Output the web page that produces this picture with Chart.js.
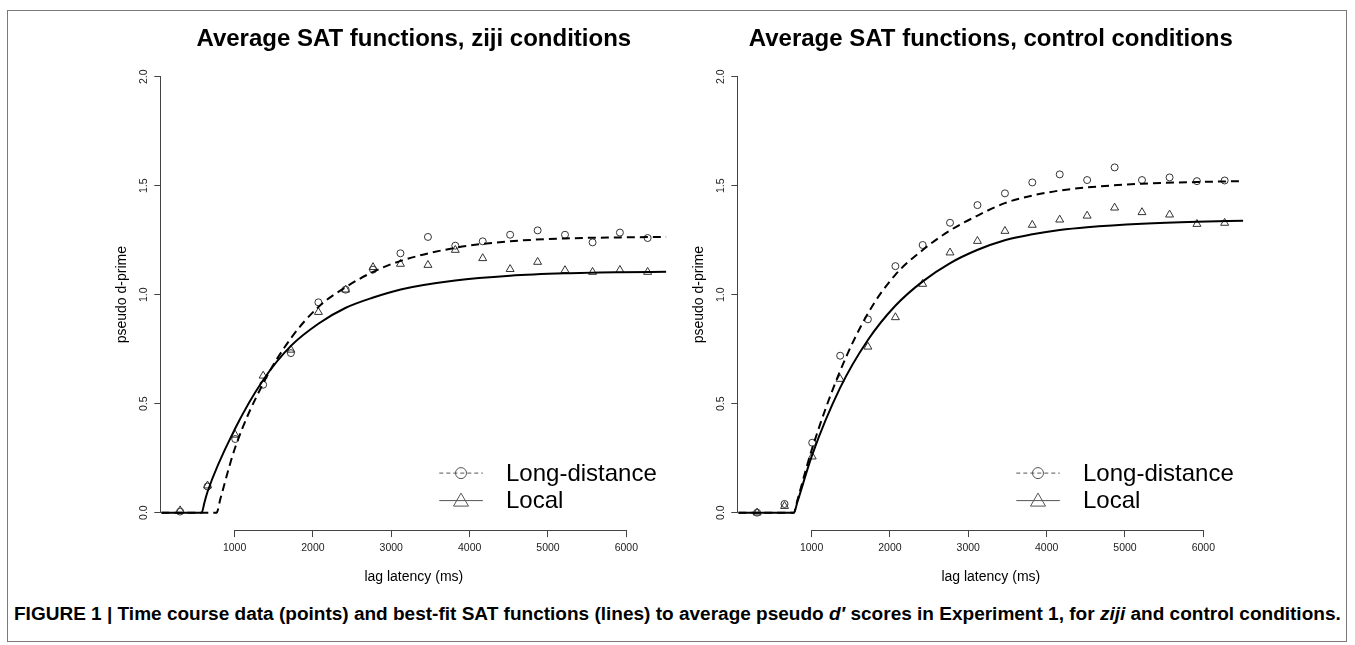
<!DOCTYPE html>
<html>
<head>
<meta charset="utf-8">
<script src="https://cdn.jsdelivr.net/npm/chart.js@4.4.1/dist/chart.umd.min.js"></script>
<style>
  html, body { margin: 0; padding: 0; background: #fff; }
  #page { position: relative; width: 1355px; height: 645px; overflow: hidden; background: #fff; }
  #frame { position: absolute; left: 7px; top: 10px; width: 1340px; height: 632px; border: 1px solid #7a7a7a; box-sizing: border-box; }
  canvas { position: absolute; top: 0; }
  #left { left: 0; }
  #right { left: 577px; }
  #caption { position: absolute; left: 14px; top: 603px; white-space: nowrap; font-family: 'Liberation Sans', Arial, sans-serif; font-weight: bold; font-size: 16px; color: #000; }
</style>
</head>
<body>
<div id="page">
  <div id="frame"></div>
  <canvas id="left" width="690" height="600"></canvas>
  <canvas id="right" width="690" height="600"></canvas>
  <div id="caption">FIGURE 1 | Time course data (points) and best-fit SAT functions (lines) to average pseudo <i>d′</i> scores in Experiment 1, for <i>ziji</i> and control conditions.</div>
</div>
<script>
// Lags (ms) at which the data points were measured
const lags = [305, 655, 1008, 1365, 1719, 2070, 2418, 2767, 3117, 3468, 3817, 4167, 4517, 4868, 5217, 5569, 5918, 6272];

// ziji conditions - observed points
const zijiLong = [0.005, 0.12, 0.338, 0.587, 0.732, 0.965, 1.023, 1.115, 1.19, 1.265, 1.225, 1.245, 1.275, 1.295, 1.275, 1.24, 1.285, 1.26];
const zijiLocal = [0.01, 0.124, 0.357, 0.628, 0.747, 0.92, 1.023, 1.126, 1.141, 1.136, 1.205, 1.167, 1.117, 1.15, 1.112, 1.104, 1.113, 1.104];

// control conditions - observed points
const ctrlLong = [0.0, 0.04, 0.321, 0.72, 0.887, 1.131, 1.228, 1.33, 1.411, 1.465, 1.515, 1.552, 1.526, 1.584, 1.526, 1.538, 1.521, 1.524];
const ctrlLocal = [0.0, 0.03, 0.257, 0.613, 0.761, 0.896, 1.049, 1.193, 1.246, 1.292, 1.32, 1.344, 1.362, 1.399, 1.378, 1.367, 1.324, 1.329];

// fitted SAT curves
const zijiLongFitX = [65, 770, 820, 1009, 1368, 1719, 2074, 2420, 2770, 3120, 3816, 4517, 5217, 5918, 6510];
const zijiLongFitY = [0, 0, 0.065, 0.30, 0.595, 0.80, 0.945, 1.035, 1.105, 1.155, 1.215, 1.245, 1.258, 1.263, 1.265];
const zijiLocalFitX = [65, 580, 615, 654, 1009, 1368, 1719, 2074, 2420, 2770, 3120, 3816, 4517, 5217, 5918, 6510];
const zijiLocalFitY = [0, 0, 0.045, 0.095, 0.387, 0.61, 0.765, 0.868, 0.94, 0.987, 1.024, 1.065, 1.087, 1.098, 1.103, 1.105];

const ctrlLongFitX = [65, 774, 820, 1008, 1361, 1719, 2066, 2415, 2764, 3113, 3466, 3818, 4167, 4516, 5217, 5918, 6510];
const ctrlLongFitY = [0, 0, 0.058, 0.295, 0.647, 0.914, 1.09, 1.204, 1.294, 1.362, 1.42, 1.455, 1.478, 1.492, 1.509, 1.517, 1.521];
const ctrlLocalFitX = [65, 774, 820, 1008, 1361, 1719, 2066, 2415, 2764, 3113, 3466, 3818, 4167, 4516, 5217, 5918, 6510];
const ctrlLocalFitY = [0, 0, 0.05, 0.265, 0.57, 0.792, 0.948, 1.06, 1.144, 1.205, 1.25, 1.277, 1.297, 1.31, 1.326, 1.335, 1.339];

// axes
const xTicks = [1000, 2000, 3000, 4000, 5000, 6000];
const yTicks = [0, 0.5, 1.0, 1.5, 2.0];
const legendLabels = ['Long-distance', 'Local'];

const FONT = "'Liberation Sans', Arial, Helvetica, sans-serif";
Chart.defaults.font.family = FONT;
Chart.defaults.color = '#111';

function pairs(xs, ys) {
    return xs.map((x, i) => ({ x: x, y: ys[i] }));
}

// R-style axis lines (only between first and last tick) and the legend box
const rStyle = {
    id: 'rStyle',
    afterDraw(chart) {
        const ctx = chart.ctx;
        const ca = chart.chartArea;
        const xs = chart.scales.x;
        const ys = chart.scales.y;
        ctx.save();
        ctx.strokeStyle = '#444';
        ctx.lineWidth = 1;
        ctx.beginPath();
        const by = Math.round(ca.bottom) + 0.5;
        ctx.moveTo(xs.getPixelForValue(xTicks[0]), by);
        ctx.lineTo(xs.getPixelForValue(xTicks[xTicks.length - 1]), by);
        const lx = Math.round(ca.left) - 0.5;
        ctx.moveTo(lx, ys.getPixelForValue(yTicks[0]));
        ctx.lineTo(lx, ys.getPixelForValue(yTicks[yTicks.length - 1]));
        ctx.stroke();

        // legend
        const rows = [ca.bottom - 57, ca.bottom - 29.5];
        const x0 = ca.right - 227, x1 = ca.right - 183.5, xm = ca.right - 205.3;
        ctx.strokeStyle = '#555';
        ctx.lineWidth = 1;
        rows.forEach((y, i) => {
            ctx.beginPath();
            ctx.setLineDash(i === 0 ? [4, 3] : []);
            ctx.moveTo(x0, y);
            ctx.lineTo(x1, y);
            ctx.stroke();
            ctx.setLineDash([]);
            ctx.beginPath();
            if (i === 0) {
                ctx.arc(xm, y, 5.5, 0, Math.PI * 2);
            } else {
                ctx.moveTo(xm, y - 7.5);
                ctx.lineTo(xm + 7.5, y + 5.5);
                ctx.lineTo(xm - 7.5, y + 5.5);
                ctx.closePath();
            }
            ctx.stroke();
            ctx.fillStyle = '#000';
            ctx.font = '24px ' + FONT;
            ctx.textAlign = 'left';
            ctx.textBaseline = 'middle';
            ctx.fillText(legendLabels[i], ca.right - 160.3, y + 1);
        });
        ctx.restore();
    }
};

function makePanel(id, title, longFit, localFit, longPts, localPts) {
    const pointBase = {
        type: 'scatter',
        showLine: false,
        borderColor: '#333',
        backgroundColor: 'rgba(0,0,0,0)',
        borderWidth: 1
    };
    const lineBase = {
        type: 'line',
        showLine: true,
        pointRadius: 0,
        borderColor: '#000',
        borderWidth: 2,
        fill: false,
        cubicInterpolationMode: 'monotone'
    };
    new Chart(document.getElementById(id), {
        type: 'scatter',
        data: {
            datasets: [
                Object.assign({}, lineBase, { label: 'Long-distance fit', data: longFit, borderDash: [8, 5] }),
                Object.assign({}, lineBase, { label: 'Local fit', data: localFit }),
                Object.assign({}, pointBase, { label: 'Long-distance', data: longPts, pointStyle: 'circle', pointRadius: 3.5 }),
                Object.assign({}, pointBase, { label: 'Local', data: localPts, pointStyle: 'triangle', pointRadius: 4.6 })
            ]
        },
        options: {
            responsive: false,
            animation: false,
            devicePixelRatio: 1,
            layout: { padding: { left: 0, right: 23.7, top: 0, bottom: 0 } },
            plugins: {
                legend: { display: false },
                tooltip: { enabled: false },
                title: {
                    display: true,
                    text: title,
                    fullSize: false,
                    color: '#000',
                    font: { size: 24, weight: 'bold' },
                    padding: { top: 25, bottom: 5.5 }
                }
            },
            scales: {
                x: {
                    type: 'linear',
                    min: 65,
                    max: 6510,
                    afterBuildTicks: (s) => { s.ticks = xTicks.map(v => ({ value: v })); },
                    afterFit: (s) => { s.height = 69.9; },
                    border: { display: false },
                    grid: { drawOnChartArea: false, drawTicks: true, tickLength: 7, color: '#444' },
                    ticks: { font: { size: 10.5 }, color: '#222', padding: 5, maxRotation: 0, callback: (v) => String(v) },
                    title: { display: true, text: 'lag latency (ms)', color: '#000', font: { size: 14 }, padding: { top: 0, bottom: 14.6 } }
                },
                y: {
                    type: 'linear',
                    min: -0.08,
                    max: 2.08,
                    afterBuildTicks: (s) => { s.ticks = yTicks.map(v => ({ value: v })); },
                    afterFit: (s) => { s.width = 161.3; },
                    border: { display: false },
                    grid: { drawOnChartArea: false, drawTicks: true, tickLength: 7, color: '#444' },
                    ticks: { font: { size: 10.5 }, color: '#222', minRotation: 90, maxRotation: 90, crossAlign: 'center', padding: 3, callback: (v) => v.toFixed(1) },
                    title: { display: true, text: 'pseudo d-prime', color: '#000', font: { size: 14 }, padding: { top: 114, bottom: 0 } }
                }
            }
        },
        plugins: [rStyle]
    });
}

makePanel('left', 'Average SAT functions, ziji conditions',
    pairs(zijiLongFitX, zijiLongFitY), pairs(zijiLocalFitX, zijiLocalFitY),
    pairs(lags, zijiLong), pairs(lags, zijiLocal));
makePanel('right', 'Average SAT functions, control conditions',
    pairs(ctrlLongFitX, ctrlLongFitY), pairs(ctrlLocalFitX, ctrlLocalFitY),
    pairs(lags, ctrlLong), pairs(lags, ctrlLocal));

// fit caption to the width it has in the figure
const cap = document.getElementById('caption');
const w = cap.getBoundingClientRect().width;
cap.style.fontSize = (16 * 1328 / w).toFixed(2) + 'px';
</script>
</body>
</html>
